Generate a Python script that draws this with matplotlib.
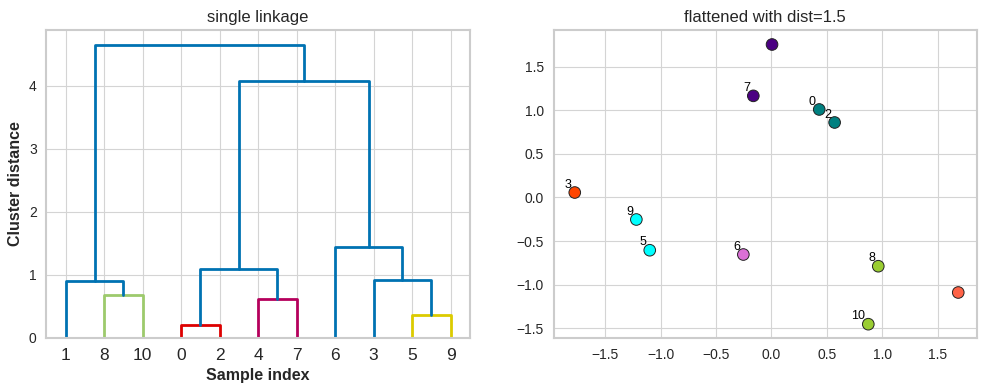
import numpy as np
import matplotlib
matplotlib.use("Agg")
import matplotlib.pyplot as plt
import seaborn as sns

# linkage rows: (child a, child b, distance); leaves are 0..10, new clusters 11..
merges = [
    (0, 2, 0.20),
    (5, 9, 0.37),
    (4, 7, 0.62),
    (8, 10, 0.68),
    (1, 14, 0.90),
    (3, 12, 0.92),
    (11, 13, 1.10),
    (6, 16, 1.45),
    (17, 18, 4.08),
    (15, 19, 4.65),
]
link_colors = ["#dd0000", "#dccb00", "#b5005c", "#9dca6c", "#0072b2",
               "#0072b2", "#0072b2", "#0072b2", "#0072b2", "#0072b2"]
n_leaves = 11

# scatter data
pt_x = [0.431, 1.686, 0.570, -1.776, 0.005, -1.099, -0.254, -0.164, 0.964, -1.220, 0.874]
pt_y = [1.008, -1.088, 0.859, 0.057, 1.752, -0.604, -0.653, 1.164, -0.787, -0.252, -1.451]
pt_colors = ["teal", "tomato", "teal", "orangered", "indigo", "cyan",
             "orchid", "indigo", "yellowgreen", "cyan", "yellowgreen"]
pt_labels = ["0", "", "2", "3", "", "5", "6", "7", "8", "9", "10"]

sns.set_style("whitegrid")
plt.rcParams["axes.edgecolor"] = "#cccccc"
plt.rcParams["axes.linewidth"] = 1.5
plt.rcParams["grid.color"] = "#d4d4d4"
plt.rcParams["font.family"] = ["Liberation Sans", "DejaVu Sans"]

fig = plt.figure(figsize=(9.87, 3.92), dpi=100)
ax1 = fig.add_axes([0.047, 0.138, 0.429, 0.785])
ax2 = fig.add_axes([0.561, 0.138, 0.4285, 0.785])

# ---- dendrogram (drawn by hand, same layout as scipy) ----
children = {}
heights = {}
for i, (a, b, d) in enumerate(merges):
    children[n_leaves + i] = (a, b)
    heights[n_leaves + i] = d
root = n_leaves + len(merges) - 1

order = []
def walk(node):
    if node < n_leaves:
        order.append(node)
    else:
        walk(children[node][0])
        walk(children[node][1])
walk(root)

xpos = {}
for i, leaf in enumerate(order):
    xpos[leaf] = 5 + 10 * i
for leaf in range(n_leaves):
    heights[leaf] = 0.0

for i, (a, b, d) in enumerate(merges):
    node = n_leaves + i
    xpos[node] = (xpos[a] + xpos[b]) / 2
    ax1.plot([xpos[a], xpos[a], xpos[b], xpos[b]],
             [heights[a], d, d, heights[b]],
             color=link_colors[i], lw=2)

ax1.set_xlim(0, 10 * n_leaves)
ax1.set_ylim(0, merges[-1][2] * 1.05)
ax1.set_xticks([5 + 10 * i for i in range(n_leaves)])
ax1.set_xticklabels([str(l) for l in order], fontsize=12.5)
ax1.set_yticks([0, 1, 2, 3, 4])
ax1.tick_params(axis="y", labelsize=10)
ax1.set_title("single linkage", fontsize=12)
ax1.set_xlabel("Sample index", fontsize=11.5, fontweight="bold")
ax1.set_ylabel("Cluster distance", fontsize=11.5, fontweight="bold")

# ---- flattened clusters ----
ax2.scatter(pt_x, pt_y, c=pt_colors, s=70, edgecolors="#222222", linewidths=0.7, zorder=3)
for x, y, lab in zip(pt_x, pt_y, pt_labels):
    if lab:
        ax2.text(x - 0.03, y + 0.02, lab, ha="right", va="bottom", fontsize=9, color="black", zorder=4)
ax2.set_xlim(-1.966, 1.852)
ax2.set_ylim(-1.608, 1.916)
ax2.set_xticks([-1.5, -1.0, -0.5, 0.0, 0.5, 1.0, 1.5])
ax2.set_yticks([-1.5, -1.0, -0.5, 0.0, 0.5, 1.0, 1.5])
ax2.tick_params(labelsize=10)
ax2.set_title("flattened with dist=1.5", fontsize=12)

fig.savefig("out.png", dpi=100)
